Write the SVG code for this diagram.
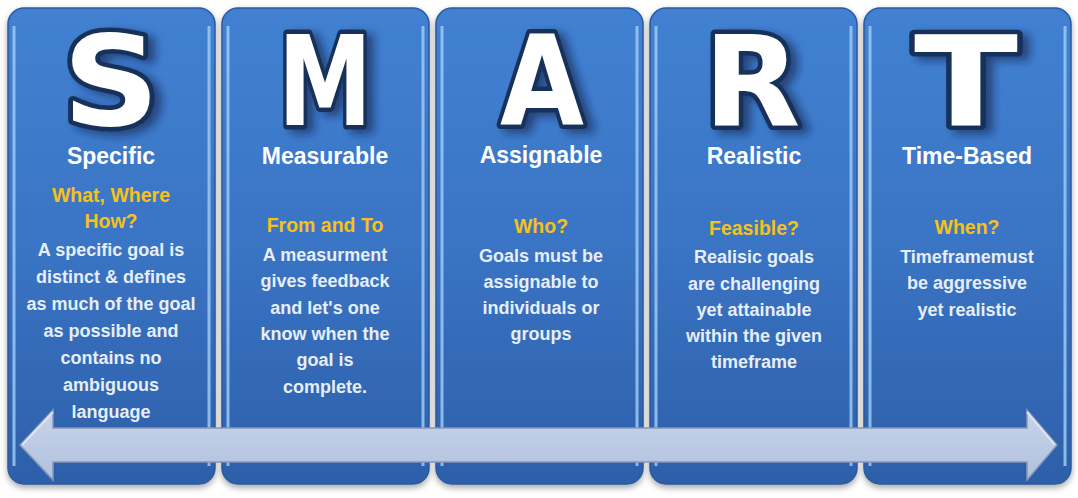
<svg xmlns="http://www.w3.org/2000/svg" width="1078" height="498" viewBox="0 0 1078 498">
<defs>
<linearGradient id="pg" x1="0" y1="0" x2="0" y2="1">
<stop offset="0" stop-color="#4281d2"/>
<stop offset="0.5" stop-color="#3a74c4"/>
<stop offset="1" stop-color="#2d5fa9"/>
</linearGradient>
<linearGradient id="ag" x1="0" y1="0" x2="0" y2="1">
<stop offset="0" stop-color="#c8d4ea"/>
<stop offset="1" stop-color="#b0c0de"/>
</linearGradient>
<filter id="ls" x="-20%" y="-20%" width="150%" height="150%">
<feDropShadow dx="7" dy="4" stdDeviation="4" flood-color="#0a1f44" flood-opacity="0.6"/>
</filter>
<filter id="ps" x="-5%" y="-5%" width="110%" height="110%">
<feDropShadow dx="0" dy="3" stdDeviation="3" flood-color="#000" flood-opacity="0.35"/>
</filter>
</defs>
<style>
.panel{fill:url(#pg);stroke:#2a5aa0;stroke-width:1.5;filter:url(#ps)}
.edge{stroke:#9ccaf4;stroke-width:3;opacity:0.85}
.big{font-family:"DejaVu Sans","Liberation Sans",sans-serif;font-weight:bold;font-size:124px;fill:#ffffff;stroke:#16305a;stroke-width:9;paint-order:stroke;stroke-linejoin:round;text-anchor:middle;filter:url(#ls)}
.title{font-family:"Liberation Sans",Arial,sans-serif;font-weight:bold;font-size:23px;fill:#ffffff;text-anchor:middle}
.q{font-family:"Liberation Sans",Arial,sans-serif;font-weight:bold;font-size:19.5px;fill:#f6c21a;text-anchor:middle}
.b{font-family:"Liberation Sans",Arial,sans-serif;font-weight:bold;font-size:18px;fill:#e6eefa;text-anchor:middle}
</style>
<rect width="1078" height="498" fill="#ffffff"/>

<g id="node-s">
<rect class="panel" x="8" y="8" width="207" height="476" rx="16"/>
<line class="edge" x1="14" y1="26" x2="14" y2="466"/>
<line class="edge" x1="209" y1="26" x2="209" y2="466"/>
<text class="big" x="111" y="125" textLength="97" lengthAdjust="spacingAndGlyphs">S</text>
<text class="title" x="111" y="164">Specific</text>
<text class="q" x="111" y="202">What, Where</text>
<text class="q" x="111" y="228">How?</text>
<text class="b" x="111" y="256">A  specific goal is</text>
<text class="b" x="111" y="283">distinct &amp; defines</text>
<text class="b" x="111" y="310">as much of the goal</text>
<text class="b" x="111" y="337">as possible and</text>
<text class="b" x="111" y="364">contains no</text>
<text class="b" x="111" y="391">ambiguous</text>
<text class="b" x="111" y="418">language</text>
</g>

<g id="node-m">
<rect class="panel" x="222" y="8" width="207" height="476" rx="16"/>
<line class="edge" x1="228" y1="26" x2="228" y2="466"/>
<line class="edge" x1="423" y1="26" x2="423" y2="466"/>
<text class="big" x="325" y="125" textLength="94" lengthAdjust="spacingAndGlyphs">M</text>
<text class="title" x="325" y="164">Measurable</text>
<text class="q" x="325" y="232">From and To</text>
<text class="b" x="325" y="261">A measurment</text>
<text class="b" x="325" y="287">gives feedback</text>
<text class="b" x="325" y="314">and let's one</text>
<text class="b" x="325" y="340">know when the</text>
<text class="b" x="325" y="366">goal is</text>
<text class="b" x="325" y="393">complete.</text>
</g>

<g id="node-a">
<rect class="panel" x="436" y="8" width="207" height="476" rx="16"/>
<line class="edge" x1="442" y1="26" x2="442" y2="466"/>
<line class="edge" x1="637" y1="26" x2="637" y2="466"/>
<text class="big" x="542" y="125" textLength="84" lengthAdjust="spacingAndGlyphs">A</text>
<text class="title" x="541" y="163">Assignable</text>
<text class="q" x="541" y="233">Who?</text>
<text class="b" x="541" y="262">Goals must be</text>
<text class="b" x="541" y="288">assignable to</text>
<text class="b" x="541" y="314">individuals or</text>
<text class="b" x="541" y="340">groups</text>
</g>

<g id="node-r">
<rect class="panel" x="650" y="8" width="207" height="476" rx="16"/>
<line class="edge" x1="656" y1="26" x2="656" y2="466"/>
<line class="edge" x1="851" y1="26" x2="851" y2="466"/>
<text class="big" x="752" y="125" textLength="97" lengthAdjust="spacingAndGlyphs">R</text>
<text class="title" x="754" y="164">Realistic</text>
<text class="q" x="754" y="235">Feasible?</text>
<text class="b" x="754" y="263">Realisic goals</text>
<text class="b" x="754" y="290">are challenging</text>
<text class="b" x="754" y="316">yet attainable</text>
<text class="b" x="754" y="342">within the given</text>
<text class="b" x="754" y="368">timeframe</text>
</g>

<g id="node-t">
<rect class="panel" x="864" y="8" width="207" height="476" rx="16"/>
<line class="edge" x1="870" y1="26" x2="870" y2="466"/>
<line class="edge" x1="1065" y1="26" x2="1065" y2="466"/>
<text class="big" x="966" y="125" textLength="104" lengthAdjust="spacingAndGlyphs">T</text>
<text class="title" x="967" y="164">Time-Based</text>
<text class="q" x="967" y="234">When?</text>
<text class="b" x="967" y="263">Timeframemust</text>
<text class="b" x="967" y="289">be aggressive</text>
<text class="b" x="967" y="316">yet realistic</text>
</g>

<g id="connectors">
<path d="M20,445 L53,410 L53,428 L1027,428 L1027,410 L1057,445 L1027,480 L1027,462 L53,462 L53,480 Z" fill="url(#ag)" stroke="#8696b8" stroke-width="1.5" stroke-linejoin="miter"/>
<path d="M22,445 L53,412 M1055,445 L1027,412" stroke="#dde5f3" stroke-width="2" fill="none"/>
</g>
</svg>
